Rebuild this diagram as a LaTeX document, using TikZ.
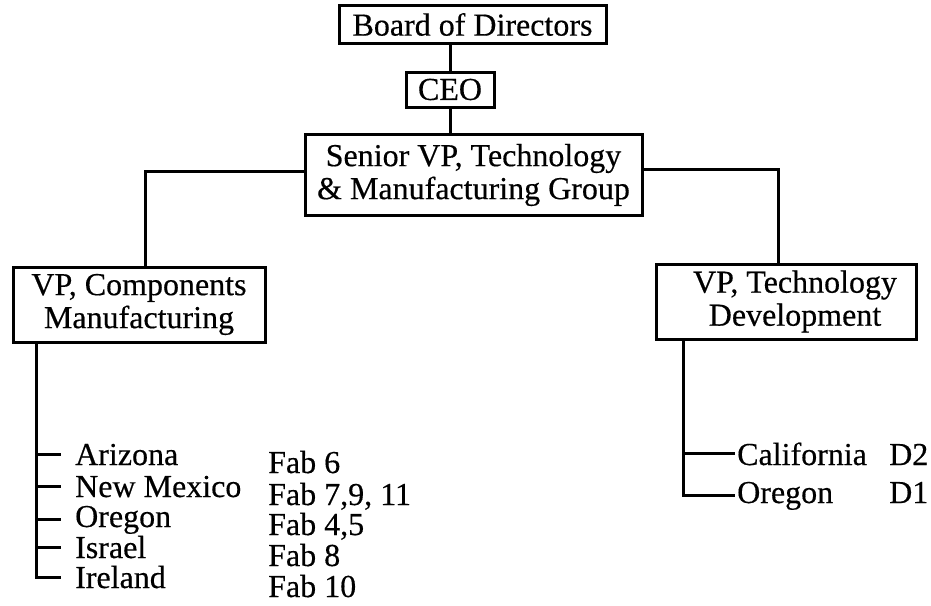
\documentclass[tikz,border=0pt]{standalone}
\usepackage{fontspec}
\setmainfont[FakeBold=0.4]{Liberation Serif}
\newcommand\chartfont{\fontsize{32}{33}\selectfont}
\begin{document}
\begin{tikzpicture}[x=1pt,y=-1pt,
  box/.style={draw, line width=3pt, inner sep=0pt, align=center, font=\chartfont},
  item/.style={inner sep=0pt, anchor=base west, font=\chartfont},
  link/.style={line width=3pt}]
\fill[white] (0,0) rectangle (931,605);
\useasboundingbox (0,0) rectangle (931,605);

% boxes of the hierarchy
\node[box, minimum width=267pt, minimum height=38pt] (bod) at (472.5,24.5) {Board of Directors};
\node[box, minimum width=88pt, minimum height=35pt] (ceo) at (450,89.5) {CEO};
\node[box, minimum width=337pt, minimum height=81pt] (svp) at (473.5,175) {Senior VP, Technology\\\& Manufacturing Group};
\node[box, minimum width=252pt, minimum height=75pt] (vpc) at (139,304.5) {VP, Components\\Manufacturing};
\node[box, minimum width=260pt, minimum height=75pt] (vpt) at (786,301.5) {\hspace*{18pt}VP, Technology\\\hspace*{18pt}Development};

% manufacturing sites
\node[item] (az)  at (75,465) {Arizona};
\node[item] (nm)  at (75,497) {New Mexico};
\node[item] (orl) at (75,527) {Oregon};
\node[item] (is)  at (75,558) {Israel};
\node[item] (ie)  at (75,588) {Ireland};
\node[item] (f6)  at (268,473) {Fab 6};
\node[item] (f7)  at (268,505) {Fab 7,9, 11};
\node[item] (f4)  at (268,535) {Fab 4,5};
\node[item] (f8)  at (268,566) {Fab 8};
\node[item] (f10) at (268,597) {Fab 10};

% development sites
\node[item] (ca)  at (737,465) {California};
\node[item] (orr) at (737,503) {Oregon};
\node[item] (d2)  at (889,465) {D2};
\node[item] (d1)  at (889,503) {D1};

% reporting lines
\draw[link] (bod.south -| ceo.north) -- (ceo.north);
\draw[link] (ceo.south) -- (ceo.south |- svp.north);
\draw[link] ([yshift=4pt]svp.west) -| ([xshift=6pt]vpc.north);
\draw[link] ([yshift=6pt]svp.east) -| ([xshift=-8pt]vpt.north);

% site lists
\coordinate (spl) at ([xshift=25pt]vpc.south west);
\coordinate (spr) at ([xshift=29pt]vpt.south west);
\draw[link] (spl) |- ([xshift=-14pt]ie.west);
\foreach \n in {az,nm,orl,is}
  \draw[link] (spl |- \n.west) -- ([xshift=-14pt]\n.west);
\draw[link] (spr) |- ([xshift=-2pt]orr.west);
\draw[link] (spr |- ca.west) -- ([xshift=-2pt]ca.west);
\end{tikzpicture}
\end{document}
